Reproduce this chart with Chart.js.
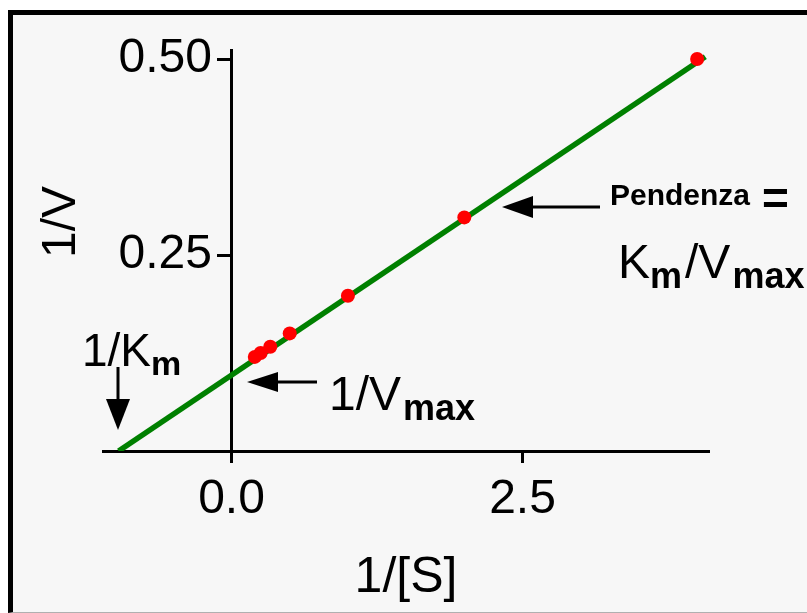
<!DOCTYPE html>
<html><head><meta charset="utf-8">
<script src="https://cdn.jsdelivr.net/npm/chart.js@4.4.1/dist/chart.umd.min.js"></script>
<style>
html,body{margin:0;padding:0;background:#fff;width:807px;height:613px;overflow:hidden;}
#frame{position:absolute;left:8px;top:10px;width:820px;height:597px;border-left:5px solid #000;border-top:5px solid #000;border-bottom:1px solid #b0b0b0;background:#f7f7f7;}
#wrap{position:absolute;left:0;top:0;width:807px;height:613px;}
</style></head><body>
<div id="frame"></div>
<div id="wrap"><canvas id="c" width="807" height="613"></canvas></div>
<script>
// Data (Lineweaver-Burk)
const invS = [0.2, 0.25, 0.333, 0.5, 1, 2, 4];
const invV = [0.12, 0.125, 0.133, 0.15, 0.198, 0.298, 0.5];
const fitX = [-0.97, 4.07];
const fitY = [0, 0.503];
const xTicks = [0, 2.5];
const xTickLabels = ['0.0', '2.5'];
const yTicks = [0.25, 0.5];
const yTickLabels = ['0.25', '0.50'];

const FAM = '"Liberation Sans", Arial, Helvetica, sans-serif';

function arrow(ctx, x1, y1, x2, y2, headLen, headHalf, lw) {
  const ang = Math.atan2(y2 - y1, x2 - x1);
  const bx = x2 - Math.cos(ang) * headLen, by = y2 - Math.sin(ang) * headLen;
  ctx.save();
  ctx.strokeStyle = '#000'; ctx.fillStyle = '#000'; ctx.lineWidth = lw;
  ctx.beginPath(); ctx.moveTo(x1, y1); ctx.lineTo(bx, by); ctx.stroke();
  ctx.beginPath();
  ctx.moveTo(x2, y2);
  ctx.lineTo(bx + Math.sin(ang) * headHalf, by - Math.cos(ang) * headHalf);
  ctx.lineTo(bx - Math.sin(ang) * headHalf, by + Math.cos(ang) * headHalf);
  ctx.closePath(); ctx.fill();
  ctx.restore();
}
function rich(ctx, x, y, parts) {
  ctx.save();
  ctx.fillStyle = '#000'; ctx.textAlign = 'left'; ctx.textBaseline = 'alphabetic';
  let cx = x;
  for (const p of parts) {
    ctx.font = p.f;
    ctx.fillText(p.t, cx + (p.dx || 0), y + (p.dy || 0));
    cx += ctx.measureText(p.t).width + (p.dx || 0);
  }
  ctx.restore();
}

const annot = {
  id: 'annot',
  afterDraw(chart) {
    const ctx = chart.ctx;
    // y axis title
    ctx.save();
    ctx.translate(62, 222); ctx.rotate(-Math.PI / 2);
    ctx.font = '48px ' + FAM; ctx.fillStyle = '#000';
    ctx.textAlign = 'center'; ctx.textBaseline = 'middle';
    ctx.fillText('1/V', 0, 0);
    ctx.restore();
    // 1/Km
    rich(ctx, 82, 366, [{t: '1/K', f: '46px ' + FAM}, {t: 'm', f: 'bold 34px ' + FAM, dy: 9}]);
    arrow(ctx, 118, 367, 118, 430, 31, 12, 3);
    // 1/Vmax
    arrow(ctx, 317, 382, 247, 382, 31, 10, 3);
    rich(ctx, 329, 410, [{t: '1/V', f: '48px ' + FAM}, {t: 'max', f: 'bold 36px ' + FAM, dy: 10, dx: 2}]);
    // Pendenza
    arrow(ctx, 600, 207, 502, 207, 31, 11, 3);
    rich(ctx, 610, 205, [{t: 'Pendenza', f: 'bold 30px ' + FAM}, {t: '=', f: 'bold 46px ' + FAM, dx: 12, dy: 9}]);
    rich(ctx, 618, 278, [{t: 'K', f: '48px ' + FAM}, {t: 'm', f: 'bold 36px ' + FAM, dy: 10}, {t: '/V', f: '48px ' + FAM, dx: 3}, {t: 'max', f: 'bold 36px ' + FAM, dy: 10, dx: 2}]);
  }
};

new Chart(document.getElementById('c'), {
  type: 'scatter',
  data: {
    datasets: [
      {
        type: 'line', label: 'fit',
        data: fitX.map((x, i) => ({x, y: fitY[i]})),
        borderColor: '#008000', borderWidth: 5.5, pointRadius: 0, fill: false,
        tension: 0, order: 2
      },
      {
        label: 'data',
        data: invS.map((x, i) => ({x, y: invV[i]})),
        backgroundColor: '#ff0000', borderWidth: 0, pointRadius: 7,
        order: 1, clip: false
      }
    ]
  },
  options: {
    responsive: false, animation: false, devicePixelRatio: 1,
    layout: {padding: {left: 103, right: 98, top: 50, bottom: 0}},
    plugins: {legend: {display: false}, tooltip: {enabled: false}},
    scales: {
      x: {
        type: 'linear', position: 'bottom', min: -1.104, max: 4.102,
        afterBuildTicks: s => { s.ticks = xTicks.map(v => ({value: v})); },
        afterFit: s => { s.height = 162; },
        ticks: {
          callback: (v, i) => xTickLabels[i], color: '#000', padding: 8,
          font: {size: 48, family: FAM}, maxRotation: 0, autoSkip: false
        },
        grid: {drawOnChartArea: false, tickLength: 12, tickWidth: 3, color: '#000'},
        border: {display: true, width: 3, color: '#000'},
        title: {display: true, text: '1/[S]', color: '#000', font: {size: 50, family: FAM}, padding: {top: 0, bottom: 5}}
      },
      y: {
        type: 'linear', position: {x: 0}, min: 0, max: 0.5115,
        afterBuildTicks: s => { s.ticks = yTicks.map(v => ({value: v})); },
        afterFit: s => { s.width = 0; },
        ticks: {display: false},
        grid: {drawOnChartArea: false, tickLength: 13, tickWidth: 3, color: '#000'},
        border: {display: true, width: 3, color: '#000'}
      },
      yLabels: {
        type: 'linear', axis: 'y', position: {x: -0.1675}, min: 0, max: 0.5115,
        afterBuildTicks: s => { s.ticks = yTicks.map(v => ({value: v})); },
        afterFit: s => { s.width = 0; },
        ticks: {
          callback: (v, i) => yTickLabels[i], color: '#000', padding: 0,
          font: {size: 48, family: FAM}, autoSkip: false
        },
        grid: {display: false},
        border: {display: false}
      }
    }
  },
  plugins: [annot]
});
</script>
</body></html>
